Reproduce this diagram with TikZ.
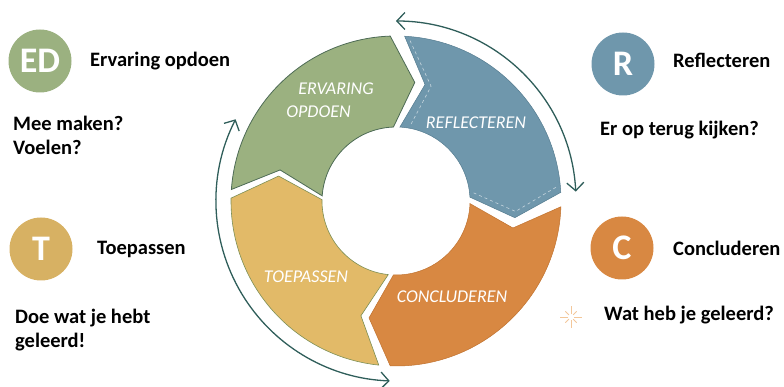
\documentclass[tikz,border=0pt]{standalone}
\usepackage{fontspec}
\setmainfont{Carlito}
\usetikzlibrary{arrows.meta}
\definecolor{edgreen}{HTML}{9BB180}
\definecolor{edgreendark}{HTML}{4D6B55}
\definecolor{rblue}{HTML}{6F97AC}
\definecolor{rbluedark}{HTML}{557C90}
\definecolor{corange}{HTML}{D88842}
\definecolor{corangedark}{HTML}{C0722F}
\definecolor{tyellow}{HTML}{E2BA68}
\definecolor{tyellowdark}{HTML}{7C8F55}
\definecolor{cyclecol}{HTML}{2F5E5A}
\definecolor{sparkcol}{HTML}{F3C79A}

\begin{document}
\begin{tikzpicture}[x=1pt,y=1pt,
  badge/.style={circle,minimum size=63pt,inner sep=0pt,text=white,font=\fontsize{36}{36}\selectfont\bfseries},
  title/.style={anchor=west,inner sep=0pt,font=\fontsize{20.5}{24}\selectfont\bfseries},
  note/.style={anchor=west,inner sep=0pt,align=left,font=\fontsize{20.5}{24}\selectfont\bfseries},
  ringtext/.style={text=white,inner sep=0pt,font=\fontsize{18}{23}\selectfont\itshape},
  turnarrow/.style={draw=cyclecol,line width=1.3pt,{Straight Barb[length=8pt,width=17pt]}-{Straight Barb[length=8pt,width=17pt]}},
  stitch/.style={draw=white,opacity=0.6,dashed,line width=0.6pt}]
		\useasboundingbox (0,0) rectangle (784,-387);
		\coordinate (O) at (396,-201);
		\begin{scope}[shift={(O)}]
		\draw[fill=edgreen,draw=edgreendark,line width=0.8pt] (176:165) arc[start angle=176,end angle=92,radius=165] -- (81:120) -- (92:74) arc[start angle=92,end angle=176,radius=74] -- (165:120) -- cycle;
		\draw[fill=rblue,draw=rbluedark,line width=0.5pt] (87:165) arc[start angle=87,end angle=3,radius=165] -- (-8:120) -- (3:74) arc[start angle=3,end angle=87,radius=74] -- (76:120) -- cycle;
		\draw[fill=corange,draw=corangedark,line width=0.5pt] (-2:165) arc[start angle=-2,end angle=-92,radius=165] -- (-103:120) -- (-92:74) arc[start angle=-92,end angle=-2,radius=74] -- (-13:120) -- cycle;
		\draw[fill=tyellow,draw=tyellowdark,line width=0.6pt] (-96:165) arc[start angle=-96,end angle=-181,radius=165] -- (-192:120) -- (-181:74) arc[start angle=-181,end angle=-96,radius=74] -- (-107:120) -- cycle;
		\draw[stitch] (85:161) -- (73:120) -- (79:78);
		\draw[stitch] (6:78) -- (-5:120) -- (5:161);
		\end{scope}
		\draw[turnarrow] ([shift={(90:180)}]O) arc[start angle=90,end angle=3,radius=180];
		\draw[turnarrow] ([shift={(153:180)}]O) arc[start angle=153,end angle=268,radius=180];
		\node[ringtext,align=left] (ringed) at (330,-100) {\hspace*{12pt}ERVARING\\OPDOEN};
		\node[ringtext] (ringr) at (476,-123) {REFLECTEREN};
		\node[ringtext] (ringc) at (452,-297) {CONCLUDEREN};
		\node[ringtext] (ringt) at (306,-277) {TOEPASSEN};
		\node[badge,fill=edgreen] (ed) at (40,-61) {ED};
		\node[badge,fill=rblue] (r) at (623,-64) {R};
		\node[badge,fill=tyellow!95!black] (t) at (41,-249) {T};
		\node[badge,fill=corange] (c) at (622,-248) {C};
		\node[title] (edtitle) at (90,-61) {Ervaring opdoen};
		\node[title] (rtitle) at (673,-60) {Reflecteren};
		\node[title] (ttitle) at (97,-249) {Toepassen};
		\node[title] (ctitle) at (673,-248) {Concluderen};
		\node[note] (ednote) at (13,-135) {Mee maken?\\Voelen?};
		\node[note] (rnote) at (600,-130) {Er op terug kijken?};
		\node[note] (tnote) at (15,-330) {Doe wat je hebt\\geleerd!};
		\node[note] (cnote) at (604,-315) {Wat heb je geleerd?};
		\coordinate (spark) at (571,-317);
		\foreach \a in {0,90,180,270}
			\draw[sparkcol,line width=0.8pt] ([shift={(\a:3)}]spark) -- ([shift={(\a:11)}]spark);
		\foreach \a in {45,135,225,315}
			\draw[sparkcol,line width=0.8pt] ([shift={(\a:3)}]spark) -- ([shift={(\a:8)}]spark);
\end{tikzpicture}
\end{document}
